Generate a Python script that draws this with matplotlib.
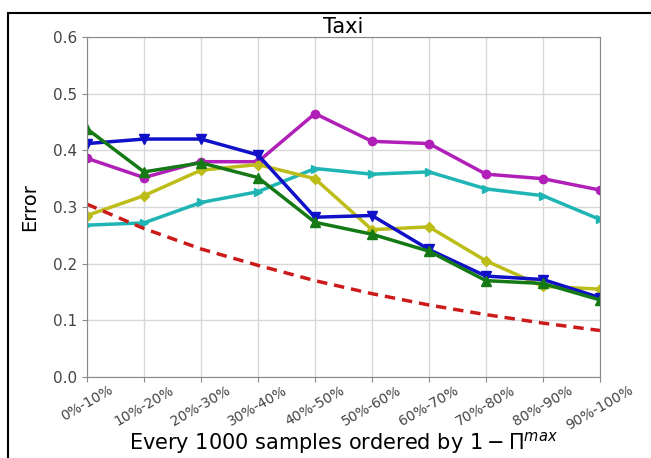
"""
Error per bucket of 1000 samples (Taxi)
"""
import matplotlib
matplotlib.use('Agg')
import matplotlib.pyplot as plt
from matplotlib.patches import Rectangle

# Data
buckets = ['0%-10%', '10%-20%', '20%-30%', '30%-40%', '40%-50%',
           '50%-60%', '60%-70%', '70%-80%', '80%-90%', '90%-100%']
err_blue = [0.412, 0.420, 0.420, 0.392, 0.282, 0.285, 0.225, 0.178, 0.172, 0.140]
err_green = [0.438, 0.362, 0.378, 0.352, 0.273, 0.252, 0.222, 0.170, 0.165, 0.136]
err_magenta = [0.386, 0.352, 0.380, 0.380, 0.465, 0.416, 0.412, 0.358, 0.350, 0.330]
err_cyan = [0.268, 0.272, 0.308, 0.327, 0.368, 0.358, 0.362, 0.332, 0.320, 0.278]
err_yellow = [0.285, 0.320, 0.365, 0.375, 0.350, 0.260, 0.265, 0.205, 0.160, 0.155]
err_red = [0.305, 0.262, 0.226, 0.197, 0.170, 0.147, 0.127, 0.110, 0.095, 0.082]

fig = plt.figure(figsize=(6.51, 4.58), dpi=100)
ax = fig.add_axes([0.1336, 0.177, 0.788, 0.742])

x = list(range(len(buckets)))

# Plot each method
ax.plot(x, err_cyan, '->', color='#1fb5b5', lw=2.5, ms=6)
ax.plot(x, err_magenta, '-o', color='#b01fb8', lw=2.5, ms=6)
ax.plot(x, err_yellow, '-D', color='#bdbd1a', lw=2.5, ms=5)
ax.plot(x, err_blue, '-v', color='#1010c8', lw=2.5, ms=7)
ax.plot(x, err_green, '-^', color='#157a15', lw=2.5, ms=7)
ax.plot(x, err_red, '--', color='#cc1a1a', lw=2.5, dashes=(3, 2))

# Axes styling
ax.set_xlim(0, len(buckets) - 1)
ax.set_ylim(0.0, 0.6)
ax.set_yticks([0.0, 0.1, 0.2, 0.3, 0.4, 0.5, 0.6])
ax.set_xticks(x)
ax.set_xticklabels(buckets, rotation=30, ha='center', fontsize=10, color='#444444')
ax.tick_params(axis='y', labelsize=11, labelcolor='#444444', color='#888888')
ax.tick_params(axis='x', color='#888888', pad=1)
ax.grid(True, color='#d8d8d8', lw=1)
for s in ax.spines.values():
    s.set_color('#888888')

ax.set_title('Taxi', fontsize=15, pad=1)
ax.set_ylabel('Error', fontsize=14, labelpad=10)
ax.set_xlabel(r'Every 1000 samples ordered by $1 - \Pi^{max}$', fontsize=15)
ax.xaxis.set_label_coords(0.5, -0.155)

# Outer frame of the original screenshot
fig.patches.append(Rectangle((8 / 651, -0.1), 1.2, 1 - 13 / 458 + 0.1,
                             transform=fig.transFigure, fill=False,
                             edgecolor='black', lw=1.5))

plt.savefig('out.png', dpi=100)
